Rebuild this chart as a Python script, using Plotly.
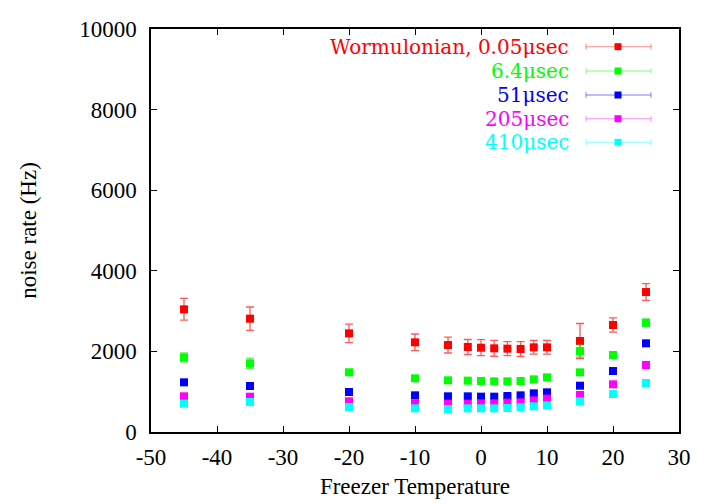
import plotly.graph_objects as go

temps = [-45, -35, -20, -10, -5, -2, 0, 2, 4, 6, 8, 10, 15, 20, 25]
temps_green = [-45, -35, -20, -10, -5, -2, 0, 2, 4, 6, 8, 10, 15, 15, 20, 25]

red_y = [3044, 2812, 2448, 2225, 2158, 2109, 2092, 2076, 2068, 2059, 2101, 2101, 2258, 2655, 3473]
red_err = [270, 290, 231, 207, 198, 186, 198, 196, 174, 186, 170, 170, 434, 178, 207]
green_y = [1853, 1704, 1481, 1332, 1282, 1274, 1265, 1257, 1257, 1265, 1307, 1356, 2010, 1481, 1910, 2713]
green_err = [110, 130, 70, 50, 50, 50, 50, 50, 50, 50, 60, 60, 150, 60, 70, 90]
blue_y = [1233, 1141, 992, 910, 885, 885, 877, 877, 893, 910, 959, 984, 1149, 1513, 2200]
blue_err = [30, 40, 30, 30, 30, 30, 30, 30, 30, 30, 60, 60, 40, 40, 60]
magenta_y = [886, 876, 762, 711, 703, 703, 711, 711, 728, 736, 786, 827, 918, 1183, 1662]
magenta_err = [30, 60, 30, 30, 30, 40, 30, 30, 30, 40, 40, 50, 30, 40, 80]
cyan_y = [703, 744, 620, 587, 570, 587, 587, 587, 595, 612, 637, 662, 761, 943, 1216]
cyan_err = [30, 60, 30, 30, 30, 30, 30, 30, 30, 30, 40, 40, 40, 30, 40]

x_ticks = [-50, -40, -30, -20, -10, 0, 10, 20, 30]
x_ticktext = ["-50", "-40", "-30", "-20", "-10", "0", "10", "20", "30"]
y_ticks = [0, 2000, 4000, 6000, 8000, 10000]
y_ticktext = ["0", "2000", "4000", "6000", "8000", "10000"]

names = ["Wormulonian, 0.05\u03bcsec", "6.4\u03bcsec", "51\u03bcsec", "205\u03bcsec", "410\u03bcsec"]
colors = ["#ff0000", "#00ff00", "#0000ff", "#ff00ff", "#00ffff"]
light = ["rgba(255,0,0,0.35)", "rgba(0,255,0,0.35)", "rgba(0,0,255,0.35)",
         "rgba(255,0,255,0.35)", "rgba(0,255,255,0.35)"]
errcol = ["rgba(255,0,0,0.65)", "rgba(0,220,0,0.6)", "rgba(0,0,255,0.5)",
          "rgba(255,0,255,0.5)", "rgba(0,255,255,0.5)"]

series = [
    (temps, red_y, red_err),
    (temps_green, green_y, green_err),
    (temps, blue_y, blue_err),
    (temps, magenta_y, magenta_err),
    (temps, cyan_y, cyan_err),
]

FONT = "Liberation Serif"
LFONT = "DejaVu Serif"
fig = go.Figure()
for i, (xs, ys, es) in enumerate(series):
    fig.add_trace(go.Scatter(
        x=xs, y=ys, mode="markers", name=names[i], showlegend=False,
        marker=dict(symbol="square", size=8, color=colors[i], line=dict(width=0)),
        error_y=dict(type="data", array=es, visible=True, color=errcol[i], thickness=1.3, width=4),
    ))

# manual gnuplot-style legend (text right, sample on the right)
L, R, T, B = 151, 679, 29, 432
W, H = R - L, B - T
def px(xp): return (xp - L) / W
def py(yp): return (B - yp) / H
rows = [46.7, 71, 95, 118.7, 142.3]
for i, yy in enumerate(rows):
    fig.add_annotation(x=px(571), y=py(yy), xref="paper", yref="paper", text=names[i],
                       showarrow=False, xanchor="right", yanchor="middle",
                       font=dict(family=LFONT, size=20, color=colors[i]))
    fig.add_shape(type="line", xref="paper", yref="paper", x0=px(586), x1=px(651),
                  y0=py(yy), y1=py(yy), line=dict(color=light[i], width=1.3))
    for xe in (586, 651):
        fig.add_shape(type="line", xref="paper", yref="paper", x0=px(xe), x1=px(xe),
                      y0=py(yy - 3), y1=py(yy + 3), line=dict(color=light[i], width=1.3))
    fig.add_shape(type="rect", xref="paper", yref="paper", x0=px(614.5), x1=px(621.5),
                  y0=py(yy + 3.5), y1=py(yy - 3.5), fillcolor=colors[i], line=dict(width=0))

axis_common = dict(showline=True, linecolor="black", linewidth=1.5, mirror="ticks",
                   ticks="inside", ticklen=6, tickcolor="black", tickwidth=1,
                   showgrid=False, zeroline=False, automargin=False,
                   tickfont=dict(family=FONT, size=23, color="black"))
fig.update_xaxes(range=[-50, 30], tickmode="array", tickvals=x_ticks, ticktext=x_ticktext,
                 ticklabelstandoff=4,
                 title=dict(text="Freezer Temperature", font=dict(family=FONT, size=23, color="black"), standoff=9),
                 **axis_common)
fig.update_yaxes(range=[0, 10000], tickmode="array", tickvals=y_ticks, ticktext=y_ticktext,
                 ticklabelstandoff=8,
                 title=dict(text="noise rate (Hz)", font=dict(family=FONT, size=23, color="black"), standoff=36),
                 **axis_common)
fig.update_layout(width=720, height=504, margin=dict(l=L, r=720 - R, t=T, b=504 - B),
                  plot_bgcolor="white", paper_bgcolor="white", showlegend=False)
fig.write_html("out.html")
